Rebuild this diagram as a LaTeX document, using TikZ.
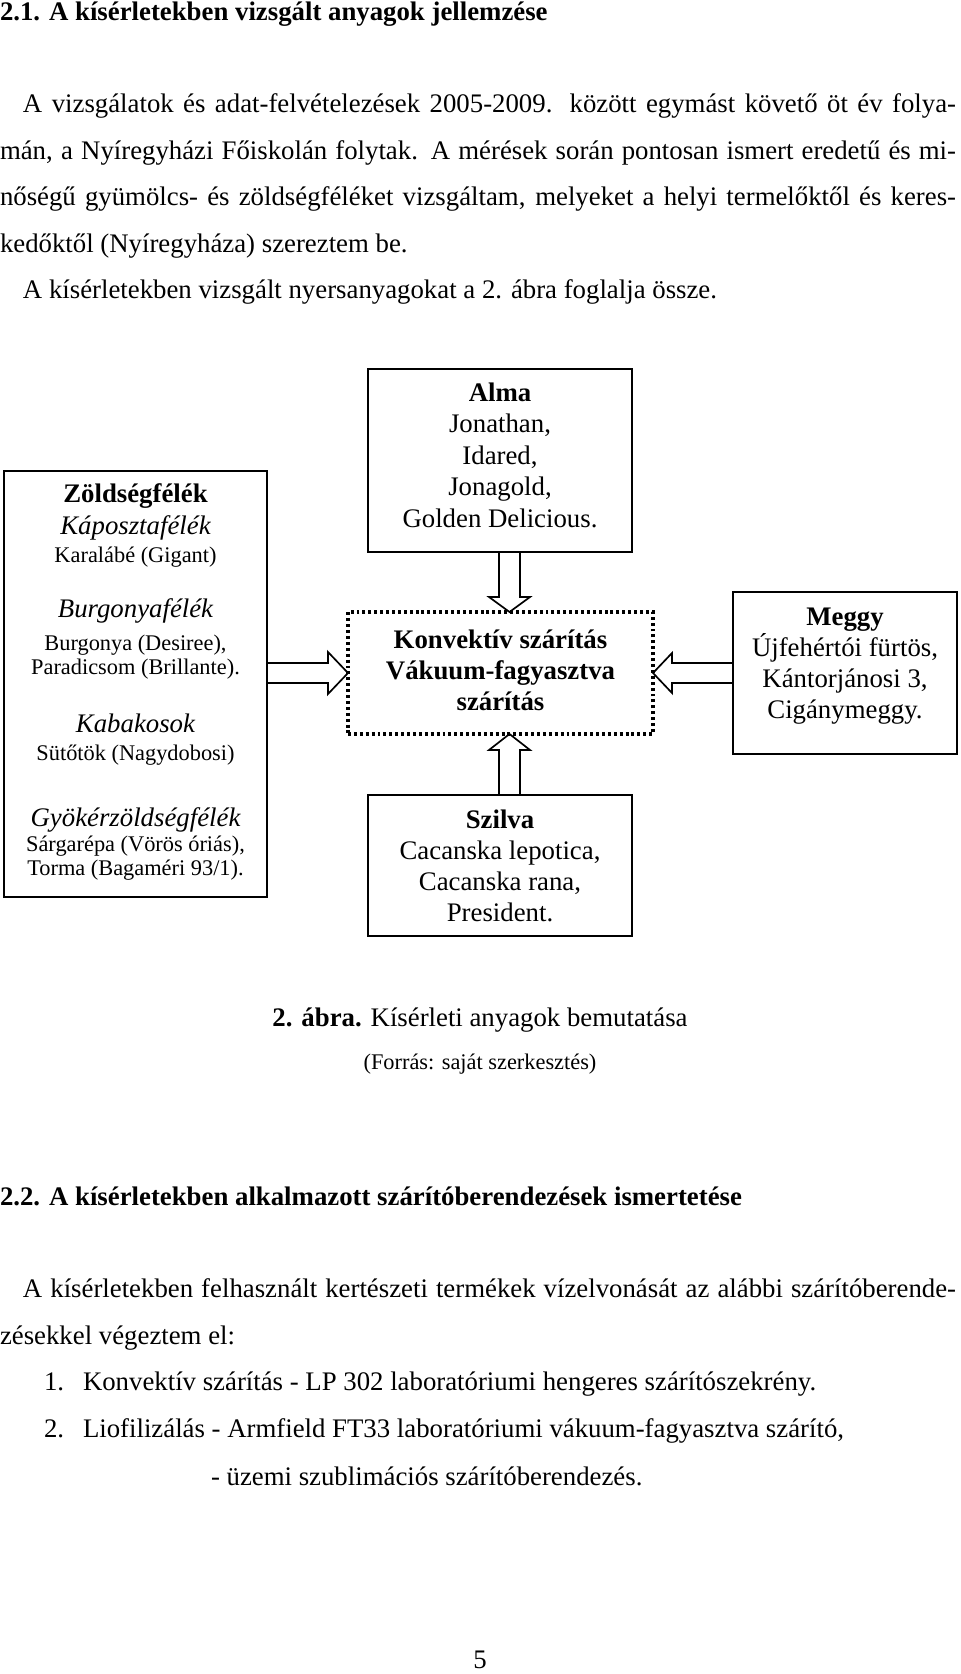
\documentclass[tikz,border=0pt]{standalone}
\usepackage{fontspec}
\setmainfont{Liberation Serif}
\usetikzlibrary{calc}
\newlength\pxl
\setlength\pxl{0.0166667cm}
\begin{document}
\begin{tikzpicture}[x=0.0166667cm,y=-0.0166667cm,
  body/.style={font=\fontsize{12.7pt}{15pt}\selectfont, inner sep=0pt, outer sep=0pt, anchor=base west},
  ctr/.style={font=\fontsize{12.7pt}{15pt}\selectfont, inner sep=0pt, outer sep=0pt, anchor=base},
  small/.style={font=\fontsize{10.6pt}{12pt}\selectfont, inner sep=0pt, outer sep=0pt, anchor=base},
  box/.style={draw, line width=0.8pt, inner sep=0pt, outer sep=0pt},
  dotbox/.style={draw, line width=1.5pt, dash pattern=on 1.4pt off 1.4pt, inner sep=0pt, outer sep=0pt},
  blk/.style={draw, line width=0.8pt, line join=miter}]
\useasboundingbox (0,0) rectangle (960,1674);
\fill[white] (0,0) rectangle (960,1674);

% ---------- text above ----------
\node[body] (t1) at (0,21) {\bfseries 2.1. A kísérletekben vizsgált anyagok jellemzése};
\node[body] (p1) at (23,113) {\makebox[933\pxl][s]{A vizsgálatok és adat-felvételezések 2005-2009. között egymást követő öt év folya-}};
\node[body] (p2) at (0,160) {\makebox[956\pxl][s]{mán, a Nyíregyházi Főiskolán folytak. A mérések során pontosan ismert eredetű és mi-}};
\node[body] (p3) at (0,206) {\makebox[956\pxl][s]{nőségű gyümölcs- és zöldségféléket vizsgáltam, melyeket a helyi termelőktől és keres-}};
\node[body] (p4) at (0,253) {kedőktől (Nyíregyháza) szereztem be.};
\node[body] (p5) at (23,299) {A kísérletekben vizsgált nyersanyagokat a 2. ábra foglalja össze.};

% ---------- boxes ----------
\node[box, minimum width={263*0.0166667cm}, minimum height={426*0.0166667cm}] (veg) at (135.5,684) {};
\node[box, minimum width={264*0.0166667cm}, minimum height={183*0.0166667cm}] (alma) at (500,460.5) {};
\node[dotbox, minimum width={305*0.0166667cm}, minimum height={122*0.0166667cm}] (dry) at (500.5,673) {};
\node[box, minimum width={224*0.0166667cm}, minimum height={162*0.0166667cm}] (meggy) at (845,673) {};
\node[box, minimum width={264*0.0166667cm}, minimum height={141*0.0166667cm}] (szilva) at (500,865.5) {};

% left box text
\node[ctr] (v1) at (135.5,502) {\bfseries Zöldségfélék};
\node[ctr] (v2) at (135.5,534) {\itshape Káposztafélék};
\node[small] (v3) at (135.5,562) {Karalábé (Gigant)};
\node[ctr] (v4) at (135.5,617) {\itshape Burgonyafélék};
\node[small] (v5) at (135.5,650) {Burgonya (Desiree),};
\node[small] (v6) at (135.5,674) {Paradicsom (Brillante).};
\node[ctr] (v7) at (135.5,732) {\itshape Kabakosok};
\node[small] (v8) at (135.5,760) {Sütőtök (Nagydobosi)};
\node[ctr] (v9) at (135.5,826) {\itshape Gyökérzöldségfélék};
\node[small] (v10) at (135.5,851) {Sárgarépa (Vörös óriás),};
\node[small] (v11) at (135.5,875) {Torma (Bagaméri 93/1).};

% alma text
\node[ctr] (a1) at (500,401) {\bfseries Alma};
\node[ctr] (a2) at (500,432.5) {Jonathan,};
\node[ctr] (a3) at (500,464) {Idared,};
\node[ctr] (a4) at (500,495.5) {Jonagold,};
\node[ctr] (a5) at (500,527) {Golden Delicious.};

% drying text
\node[ctr] (d1) at (500.5,648) {\bfseries Konvektív szárítás};
\node[ctr] (d2) at (500.5,679) {\bfseries Vákuum-fagyasztva};
\node[ctr] (d3) at (500.5,710) {\bfseries szárítás};

% meggy text
\node[ctr] (m1) at (845,625) {\bfseries Meggy};
\node[ctr] (m2) at (845,656) {Újfehértói fürtös,};
\node[ctr] (m3) at (845,687) {Kántorjánosi 3,};
\node[ctr] (m4) at (845,718) {Cigánymeggy.};

% szilva text
\node[ctr] (s1) at (500,828) {\bfseries Szilva};
\node[ctr] (s2) at (500,859) {Cacanska lepotica,};
\node[ctr] (s3) at (500,890) {Cacanska rana,};
\node[ctr] (s4) at (500,921) {President.};

% ---------- block arrows ----------
\coordinate (la1) at ($(dry.west)+(-20,-10)$);
\coordinate (la2) at ($(dry.west)+(-20,10)$);
\draw[blk] (veg.east |- la1) -- (la1) -- ($(la1)+(0,-11)$) -- (dry.west) -- ($(la2)+(0,11)$) -- (la2) -- (veg.east |- la2);

\coordinate (ta) at ($(dry.north)+(9,0)$);
\coordinate (ta1) at ($(ta)+(-10.5,-15)$);
\coordinate (ta2) at ($(ta)+(10.5,-15)$);
\draw[blk] (ta1 |- alma.south) -- (ta1) -- ($(ta1)+(-10,0)$) -- (ta) -- ($(ta2)+(10,0)$) -- (ta2) -- (ta2 |- alma.south);

\coordinate (tb) at ($(dry.south)+(9,0)$);
\coordinate (tb1) at ($(tb)+(-10.5,16)$);
\coordinate (tb2) at ($(tb)+(10.5,16)$);
\draw[blk] (tb1 |- szilva.north) -- (tb1) -- ($(tb1)+(-10,0)$) -- (tb) -- ($(tb2)+(10,0)$) -- (tb2) -- (tb2 |- szilva.north);

\coordinate (ma1) at ($(dry.east)+(19,-10)$);
\coordinate (ma2) at ($(dry.east)+(19,10)$);
\draw[blk] (meggy.west |- ma1) -- (ma1) -- ($(ma1)+(0,-10)$) -- (dry.east) -- ($(ma2)+(0,10)$) -- (ma2) -- (meggy.west |- ma2);

% ---------- caption ----------
\node[ctr] (cap) at (480,1026) {\textbf{2. ábra.} Kísérleti anyagok bemutatása};
\node[small] (src) at (480,1069) {(Forrás: saját szerkesztés)};

% ---------- text below ----------
\node[body] (t2) at (0,1205) {\bfseries 2.2. A kísérletekben alkalmazott szárítóberendezések ismertetése};
\node[body] (q1) at (23,1297) {\makebox[933\pxl][s]{A kísérletekben felhasznált kertészeti termékek vízelvonását az alábbi szárítóberende-}};
\node[body] (q2) at (0,1344) {zésekkel végeztem el:};
\node[body] (n1) at (44,1390) {1.};
\node[body] (i1) at (83,1390) {Konvektív szárítás - LP 302 laboratóriumi hengeres szárítószekrény.};
\node[body] (n2) at (44,1437) {2.};
\node[body] (i2) at (83,1437) {Liofilizálás - Armfield FT33 laboratóriumi vákuum-fagyasztva szárító,};
\node[body] (i3) at (211,1485) {- üzemi szublimációs szárítóberendezés.};
\node[ctr] (pg) at (480,1668) {5};
\end{tikzpicture}
\end{document}
